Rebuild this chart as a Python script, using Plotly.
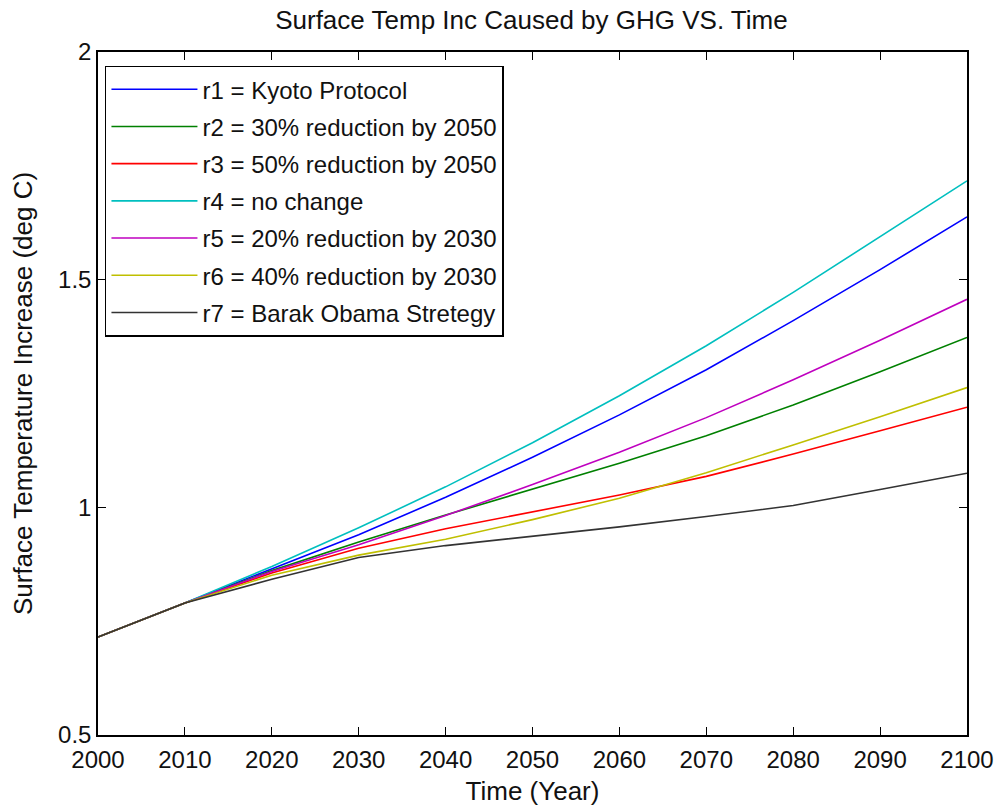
import plotly.graph_objects as go

years = [2000, 2010, 2020, 2030, 2040, 2050, 2060, 2070, 2080, 2090, 2100]

r1_kyoto = [0.715, 0.790, 0.866, 0.940, 1.022, 1.110, 1.203, 1.302, 1.410, 1.522, 1.638]
r2_30_2050 = [0.715, 0.790, 0.861, 0.924, 0.983, 1.040, 1.097, 1.157, 1.225, 1.298, 1.373]
r3_50_2050 = [0.715, 0.790, 0.856, 0.910, 0.953, 0.990, 1.027, 1.068, 1.117, 1.168, 1.220]
r4_nochange = [0.715, 0.790, 0.870, 0.955, 1.045, 1.142, 1.245, 1.355, 1.472, 1.595, 1.717]
r5_20_2030 = [0.715, 0.790, 0.859, 0.918, 0.982, 1.050, 1.121, 1.197, 1.280, 1.367, 1.457]
r6_40_2030 = [0.715, 0.790, 0.851, 0.895, 0.930, 0.973, 1.020, 1.076, 1.137, 1.199, 1.263]
r7_obama = [0.715, 0.790, 0.842, 0.890, 0.916, 0.937, 0.957, 0.980, 1.004, 1.039, 1.075]

names = [
    "r1 = Kyoto Protocol",
    "r2 = 30% reduction by 2050",
    "r3 = 50% reduction by 2050",
    "r4 = no change",
    "r5 = 20% reduction by 2030",
    "r6 = 40% reduction by 2030",
    "r7 = Barak Obama Stretegy",
]
series = [r1_kyoto, r2_30_2050, r3_50_2050, r4_nochange, r5_20_2030, r6_40_2030, r7_obama]
colors = ["#0000ff", "#008000", "#ff0000", "#00bfbf", "#bf00bf", "#bfbf00", "#333333"]

x_ticks = list(range(2000, 2101, 10))
y_ticks = [0.5, 1, 1.5, 2]
y_tick_text = ["0.5", "1", "1.5", "2"]

FONT = "Liberation Sans, Arial, sans-serif"

fig = go.Figure()
for i, (nm, ys, c) in enumerate(zip(names, series, colors)):
    fig.add_trace(go.Scatter(
        x=years, y=ys, mode="lines", name=nm,
        line=dict(color=c, width=1.6),
        legendgroup=f"g{i}",
    ))

axis_common = dict(
    showgrid=False, zeroline=False,
    showline=True, linecolor="black", linewidth=1.5, mirror="ticks",
    ticks="inside", ticklen=8, tickwidth=1.3, tickcolor="black",
    tickfont=dict(family=FONT, size=24, color="#111"),
    automargin=False,
)

fig.update_layout(
    width=998, height=809,
    paper_bgcolor="white", plot_bgcolor="white",
    margin=dict(l=98, r=31, t=52, b=74),
    font=dict(family=FONT, size=24, color="#111"),
    title=dict(text="Surface Temp Inc Caused by GHG VS. Time", x=0.5325, xanchor="center",
               y=0.975, yanchor="middle", font=dict(family=FONT, size=26, color="#111")),
    xaxis=dict(range=[2000, 2100], tickvals=x_ticks, ticklabelstandoff=2,
               title=dict(text="Time (Year)", font=dict(family=FONT, size=26), standoff=10),
               **axis_common),
    yaxis=dict(range=[0.5, 2], tickvals=y_ticks, ticktext=y_tick_text,
               title=dict(text="Surface Temperature Increase (deg C)", font=dict(family=FONT, size=26), standoff=18),
               **axis_common),
    legend=dict(x=0.008, y=0.980, xanchor="left", yanchor="top",
                bordercolor="black", borderwidth=1.5, bgcolor="white",
                font=dict(family=FONT, size=24, color="#111"),
                tracegroupgap=3, itemwidth=86),
    showlegend=True,
)

fig.write_html(
    "out.html",
    config={"displayModeBar": False},
    post_script="document.body.style.margin='0px';document.body.style.overflow='hidden';",
)
